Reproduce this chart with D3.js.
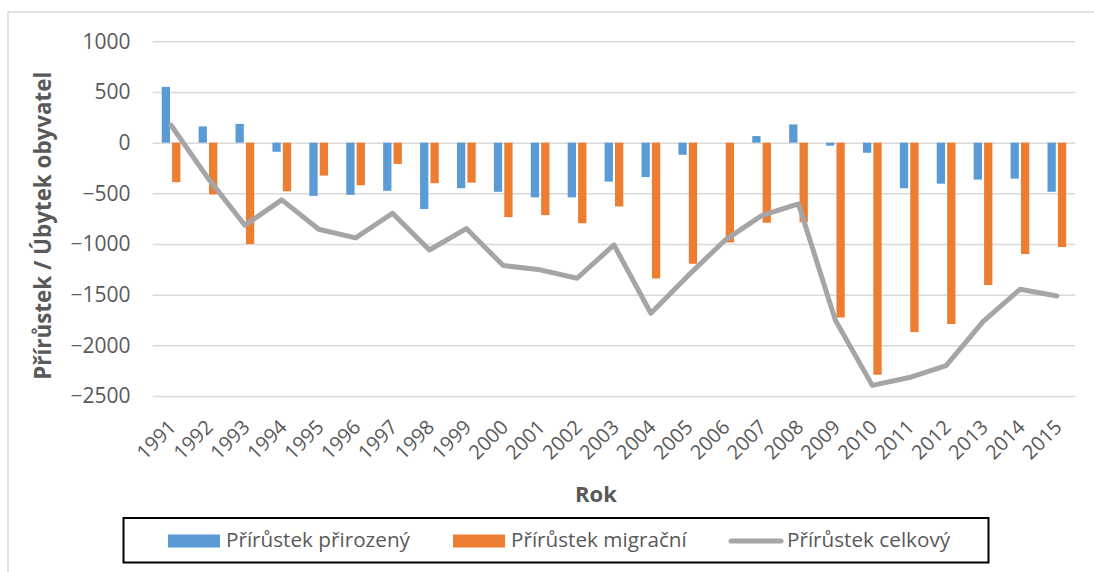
<!DOCTYPE html>
<html lang="cs">
<head>
    <meta charset="UTF-8">
    <title>Přírůstek / Úbytek obyvatel</title>
    <style>
        html, body {
            margin: 0;
            padding: 0;
            background-color: #ffffff;
            font-family: 'Open Sans', sans-serif;
        }
        svg { display: block; }
    </style>
</head>
<body>
    <div id="chart"></div>
    <script src="https://d3js.org/d3.v7.min.js"></script>
    <script>
        const years = ["1991", "1992", "1993", "1994", "1995", "1996", "1997", "1998", "1999", "2000",
            "2001", "2002", "2003", "2004", "2005", "2006", "2007", "2008", "2009", "2010",
            "2011", "2012", "2013", "2014", "2015"];
        const natural = [550, 160, 185, -90, -525, -515, -475, -655, -450, -485,
            -540, -540, -385, -340, -120, 0, 65, 180, -30, -100,
            -450, -405, -365, -355, -485];
        const migration = [-390, -510, -1000, -480, -325, -420, -210, -400, -395, -735,
            -715, -795, -630, -1340, -1195, -985, -790, -785, -1725, -2290,
            -1870, -1790, -1405, -1100, -1030];
        const total = [172, -350, -815, -565, -855, -940, -697, -1059, -848, -1213,
            -1255, -1338, -1009, -1684, -1315, -965, -720, -605, -1752, -2395,
            -2318, -2200, -1766, -1447, -1513];
        const yTicks = [1000, 500, 0, -500, -1000, -1500, -2000, -2500];
        const seriesNames = ["Přírůstek přirozený", "Přírůstek migrační", "Přírůstek celkový"];

        const colours = { natural: "#5B9BD5", migration: "#ED7D31", total: "#A5A5A5" };
        const W = 1094, H = 572;
        const plot = { left: 152.6, right: 1075.3, top: 41.3, bottom: 396 };
        const barW = 8.3, barOff = 5.2;

        const svg = d3.select("#chart")
            .append("svg")
            .attr("width", W)
            .attr("height", H);

        // chart frame (runs off the right and bottom of the picture)
        svg.append("rect")
            .attr("x", 8).attr("y", 12)
            .attr("width", W + 20).attr("height", H + 20)
            .attr("fill", "none")
            .attr("stroke", "#d9d9d9")
            .attr("stroke-width", 1.5);

        const x = d3.scaleBand()
            .domain(years)
            .range([plot.left, plot.right]);

        const y = d3.scaleLinear()
            .domain([-2500, 1000])
            .range([plot.bottom, plot.top]);

        const cx = d => x(d) + x.bandwidth() / 2;

        // GRID + Y AXIS
        const yAxis = svg.append("g")
            .attr("transform", `translate(${plot.left},0)`)
            .call(d3.axisLeft(y)
                .tickValues(yTicks)
                .tickSize(-(plot.right - plot.left))
                .tickPadding(22)
                .tickFormat(d3.format("d")));
        yAxis.select(".domain").remove();
        yAxis.selectAll(".tick line")
            .attr("stroke", "#d9d9d9")
            .attr("stroke-width", 1.5);
        yAxis.selectAll(".tick text")
            .attr("fill", "#595959")
            .style("font-family", "'Open Sans', sans-serif")
            .style("font-size", "21px");

        // BARS
        svg.append("g").selectAll("rect")
            .data(years)
            .enter()
            .append("rect")
            .attr("x", (d) => cx(d) - barOff - barW / 2)
            .attr("width", barW)
            .attr("y", (d, i) => y(Math.max(0, natural[i])))
            .attr("height", (d, i) => Math.abs(y(natural[i]) - y(0)))
            .attr("fill", colours.natural);

        svg.append("g").selectAll("rect")
            .data(years)
            .enter()
            .append("rect")
            .attr("x", (d) => cx(d) + barOff - barW / 2)
            .attr("width", barW)
            .attr("y", (d, i) => y(Math.max(0, migration[i])))
            .attr("height", (d, i) => Math.abs(y(migration[i]) - y(0)))
            .attr("fill", colours.migration);

        // LINE
        const line = d3.line()
            .x((d, i) => cx(years[i]))
            .y((d) => y(d));

        svg.append("path")
            .datum(total)
            .attr("d", line)
            .attr("fill", "none")
            .attr("stroke", colours.total)
            .attr("stroke-width", 5)
            .attr("stroke-linejoin", "round")
            .attr("stroke-linecap", "round");

        // X LABELS
        svg.append("g").selectAll("text")
            .data(years)
            .enter()
            .append("text")
            .attr("transform", (d) => `translate(${cx(d) + 1},423) rotate(-45)`)
            .attr("text-anchor", "end")
            .attr("dominant-baseline", "central")
            .attr("fill", "#595959")
            .style("font-size", "20px")
            .text((d) => d);

        // AXIS TITLES
        svg.append("text")
            .attr("x", 596)
            .attr("y", 502)
            .attr("text-anchor", "middle")
            .attr("fill", "#595959")
            .style("font-weight", "bold")
            .style("font-size", "22px")
            .text("Rok");

        svg.append("text")
            .attr("transform", `translate(51,${(plot.top + plot.bottom) / 2 + 7}) rotate(-90)`)
            .attr("text-anchor", "middle")
            .attr("fill", "#595959")
            .style("font-weight", "bold")
            .style("font-size", "22.4px")
            .text("Přírůstek / Úbytek obyvatel");

        // LEGEND
        const legend = svg.append("g");
        legend.append("rect")
            .attr("x", 123.5).attr("y", 518)
            .attr("width", 865).attr("height", 44.5)
            .attr("fill", "none")
            .attr("stroke", "#000")
            .attr("stroke-width", 2);

        const legendX = [168, 453, 729];
        const legendTextX = [226, 511, 787];
        const legendCol = [colours.natural, colours.migration, colours.total];

        seriesNames.forEach((name, i) => {
            if (i < 2) {
                legend.append("rect")
                    .attr("x", legendX[i]).attr("y", 534.5)
                    .attr("width", 52).attr("height", 13)
                    .attr("fill", legendCol[i]);
            } else {
                legend.append("line")
                    .attr("x1", legendX[i] + 2).attr("x2", legendX[i] + 52)
                    .attr("y1", 541).attr("y2", 541)
                    .attr("stroke", legendCol[i])
                    .attr("stroke-width", 5)
                    .attr("stroke-linecap", "round");
            }
            legend.append("text")
                .attr("x", legendTextX[i])
                .attr("y", 547)
                .attr("fill", "#595959")
                .style("font-size", "20.7px")
                .text(name);
        });
    </script>
</body>
</html>
